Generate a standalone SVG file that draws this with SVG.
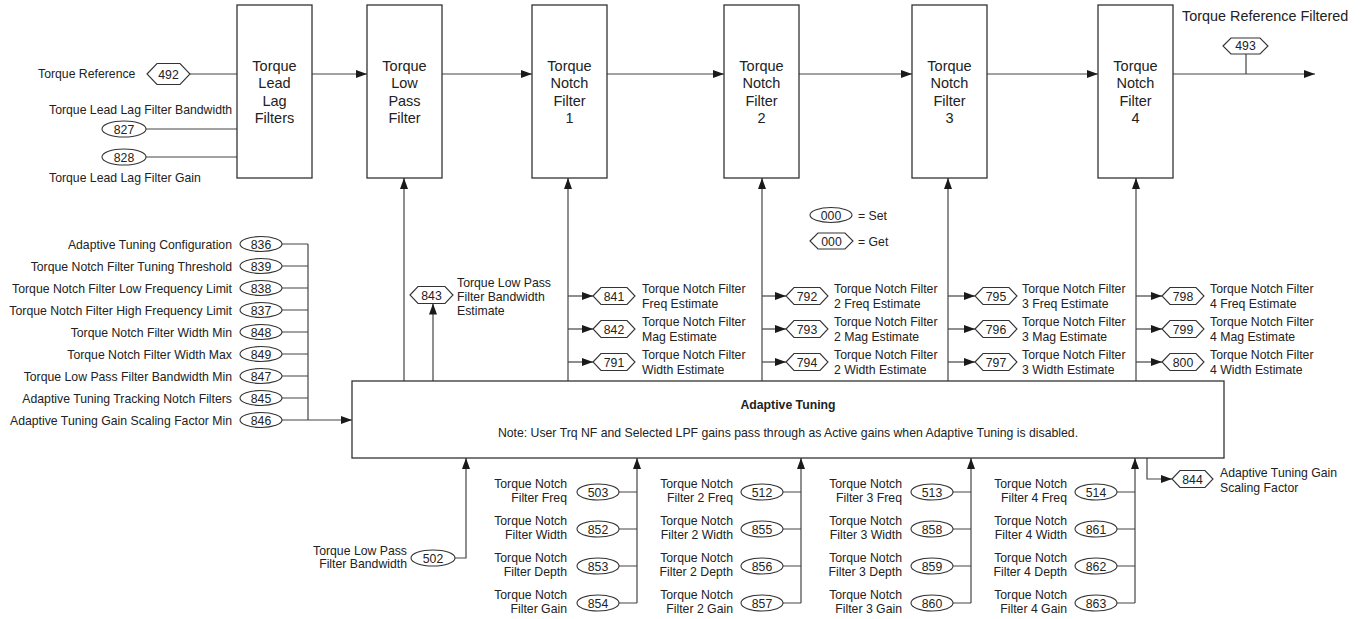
<svg xmlns="http://www.w3.org/2000/svg" width="1364" height="619" viewBox="0 0 1364 619">
<style>
text{font-family:"Liberation Sans",Arial,sans-serif;font-size:12.25px;fill:#222}
.bt{font-size:14.5px;text-anchor:middle}
.m{text-anchor:middle}
.r{text-anchor:end}
.b{font-weight:bold}
.box{fill:#fff;stroke:#333;stroke-width:1.3}
.sh{fill:#fff;stroke:#333;stroke-width:1.1}
.c{fill:none;stroke:#444;stroke-width:1.2}
.a{marker-end:url(#ah)}
</style>
<defs>
<marker id="ah" viewBox="0 0 11 8" refX="11" refY="4" markerWidth="11" markerHeight="8" orient="auto" markerUnits="userSpaceOnUse"><path d="M0,0 L11,4 L0,8 z" fill="#1a1a1a"/></marker>
</defs>

<g id="connectors">
<path class="c" d="M190,74H237M146,129H237M146,157H237"/>
<path class="c a" d="M312,74H367"/>
<path class="c a" d="M442,74H532"/>
<path class="c a" d="M607,74H724"/>
<path class="c a" d="M799,74H912"/>
<path class="c a" d="M987,74H1098"/>
<path class="c a" d="M1173,74H1315"/>
<path class="c" d="M1246,54V74"/>
<path class="c a" d="M404,381V178"/>
<path class="c a" d="M568,381V178"/>
<path class="c a" d="M762,381V178"/>
<path class="c a" d="M948,381V178"/>
<path class="c a" d="M1136,381V178"/>
<path class="c a" d="M433,381V303.5"/>
<path class="c a" d="M568,296H593"/><path class="c a" d="M568,329H593"/><path class="c a" d="M568,362H593"/>
<path class="c a" d="M762,296H786"/><path class="c a" d="M762,329H786"/><path class="c a" d="M762,362H786"/>
<path class="c a" d="M948,296H975"/><path class="c a" d="M948,329H975"/><path class="c a" d="M948,362H975"/>
<path class="c a" d="M1136,296H1162"/><path class="c a" d="M1136,329H1162"/><path class="c a" d="M1136,362H1162"/>
<path class="c" d="M282,244H308M282,266H308M282,288H308M282,310H308M282,332H308M282,354H308M282,376H308M282,398H308M308,244V420"/>
<path class="c a" d="M282,420H352"/>
<path class="c a" d="M455,558H466V458"/>
<path class="c" d="M619,492H637M619,529H637M619,566H637M619,603H637"/>
<path class="c a" d="M637,603V458"/>
<path class="c" d="M783,492H801M783,529H801M783,566H801M783,603H801"/>
<path class="c a" d="M801,603V458"/>
<path class="c" d="M953,492H971M953,529H971M953,566H971M953,603H971"/>
<path class="c a" d="M971,603V458"/>
<path class="c" d="M1117,492H1135M1117,529H1135M1117,566H1135M1117,603H1135"/>
<path class="c a" d="M1135,603V458"/>
<path class="c a" d="M1147,458V479H1172"/>
</g>

<g id="lead-lag"><rect class="box" x="237" y="5" width="75" height="173"/>
<text class="bt" x="274.5" y="70.5">Torque</text><text class="bt" x="274.5" y="88">Lead</text><text class="bt" x="274.5" y="105.5">Lag</text><text class="bt" x="274.5" y="123">Filters</text></g>
<g id="low-pass"><rect class="box" x="367" y="5" width="75" height="173"/>
<text class="bt" x="404.5" y="70.5">Torque</text><text class="bt" x="404.5" y="88">Low</text><text class="bt" x="404.5" y="105.5">Pass</text><text class="bt" x="404.5" y="123">Filter</text></g>
<g id="notch1"><rect class="box" x="532" y="5" width="75" height="173"/>
<text class="bt" x="569.5" y="70.5">Torque</text><text class="bt" x="569.5" y="88">Notch</text><text class="bt" x="569.5" y="105.5">Filter</text><text class="bt" x="569.5" y="123">1</text></g>
<g id="notch2"><rect class="box" x="724" y="5" width="75" height="173"/>
<text class="bt" x="761.5" y="70.5">Torque</text><text class="bt" x="761.5" y="88">Notch</text><text class="bt" x="761.5" y="105.5">Filter</text><text class="bt" x="761.5" y="123">2</text></g>
<g id="notch3"><rect class="box" x="912" y="5" width="75" height="173"/>
<text class="bt" x="949.5" y="70.5">Torque</text><text class="bt" x="949.5" y="88">Notch</text><text class="bt" x="949.5" y="105.5">Filter</text><text class="bt" x="949.5" y="123">3</text></g>
<g id="notch4"><rect class="box" x="1098" y="5" width="75" height="173"/>
<text class="bt" x="1135.5" y="70.5">Torque</text><text class="bt" x="1135.5" y="88">Notch</text><text class="bt" x="1135.5" y="105.5">Filter</text><text class="bt" x="1135.5" y="123">4</text></g>

<g id="adaptive-tuning"><rect class="box" x="352" y="381" width="872" height="77"/>
<text class="m b" x="788" y="409">Adaptive Tuning</text>
<text class="m" x="788" y="437">Note: User Trq NF and Selected LPF gains pass through as Active gains when Adaptive Tuning is disabled.</text></g>

<g id="p492"><text x="38" y="78">Torque Reference</text><polygon class="sh" points="147,74 157,63.5 180,63.5 190,74 180,84.5 157,84.5"/><text class="m" x="168.5" y="78.5">492</text></g>
<g id="p827"><text x="49" y="113.5">Torque Lead Lag Filter Bandwidth</text><ellipse class="sh" cx="124" cy="129" rx="22" ry="8"/><text class="m" x="124" y="133.5">827</text></g>
<g id="p828"><ellipse class="sh" cx="124" cy="157" rx="22" ry="8"/><text class="m" x="124" y="161.5">828</text><text x="49" y="181.5">Torque Lead Lag Filter Gain</text></g>
<g id="p493"><text x="1182" y="21" style="font-size:14.4px">Torque Reference Filtered</text><polygon class="sh" points="1223,46 1231,38 1260,38 1268,46 1260,54 1231,54"/><text class="m" x="1245.5" y="50">493</text></g>

<g id="legend"><ellipse class="sh" cx="831" cy="215" rx="21" ry="7.5"/><text class="m" x="831" y="219.5">000</text><text x="858" y="219.5">= Set</text>
<polygon class="sh" points="810,241 818,233 845,233 853,241 845,249 818,249"/><text class="m" x="831.5" y="245.5">000</text><text x="858" y="245.5">= Get</text></g>

<g id="p843"><polygon class="sh" points="410,295 418,286.5 445,286.5 453,295 445,303.5 418,303.5"/><text class="m" x="431.5" y="299.5">843</text>
<text x="457" y="286.5">Torque Low Pass</text><text x="457" y="300.5">Filter Bandwidth</text><text x="457" y="315">Estimate</text></g>

<g id="p841"><polygon class="sh" points="593,296 601,287.5 627,287.5 635,296 627,304.5 601,304.5"/><text class="m" x="614" y="300.5">841</text><text x="642" y="293">Torque Notch Filter</text><text x="642" y="308">Freq Estimate</text></g>
<g id="p842"><polygon class="sh" points="593,329 601,320.5 627,320.5 635,329 627,337.5 601,337.5"/><text class="m" x="614" y="333.5">842</text><text x="642" y="326">Torque Notch Filter</text><text x="642" y="341">Mag Estimate</text></g>
<g id="p791"><polygon class="sh" points="593,362 601,353.5 627,353.5 635,362 627,370.5 601,370.5"/><text class="m" x="614" y="366.5">791</text><text x="642" y="359">Torque Notch Filter</text><text x="642" y="374">Width Estimate</text></g>

<g id="p792"><polygon class="sh" points="786,296 794,287.5 820,287.5 828,296 820,304.5 794,304.5"/><text class="m" x="807" y="300.5">792</text><text x="834" y="293">Torque Notch Filter</text><text x="834" y="308">2 Freq Estimate</text></g>
<g id="p793"><polygon class="sh" points="786,329 794,320.5 820,320.5 828,329 820,337.5 794,337.5"/><text class="m" x="807" y="333.5">793</text><text x="834" y="326">Torque Notch Filter</text><text x="834" y="341">2 Mag Estimate</text></g>
<g id="p794"><polygon class="sh" points="786,362 794,353.5 820,353.5 828,362 820,370.5 794,370.5"/><text class="m" x="807" y="366.5">794</text><text x="834" y="359">Torque Notch Filter</text><text x="834" y="374">2 Width Estimate</text></g>

<g id="p795"><polygon class="sh" points="975,296 983,287.5 1009,287.5 1017,296 1009,304.5 983,304.5"/><text class="m" x="996" y="300.5">795</text><text x="1022" y="293">Torque Notch Filter</text><text x="1022" y="308">3 Freq Estimate</text></g>
<g id="p796"><polygon class="sh" points="975,329 983,320.5 1009,320.5 1017,329 1009,337.5 983,337.5"/><text class="m" x="996" y="333.5">796</text><text x="1022" y="326">Torque Notch Filter</text><text x="1022" y="341">3 Mag Estimate</text></g>
<g id="p797"><polygon class="sh" points="975,362 983,353.5 1009,353.5 1017,362 1009,370.5 983,370.5"/><text class="m" x="996" y="366.5">797</text><text x="1022" y="359">Torque Notch Filter</text><text x="1022" y="374">3 Width Estimate</text></g>

<g id="p798"><polygon class="sh" points="1162,296 1170,287.5 1196,287.5 1204,296 1196,304.5 1170,304.5"/><text class="m" x="1183" y="300.5">798</text><text x="1210" y="293">Torque Notch Filter</text><text x="1210" y="308">4 Freq Estimate</text></g>
<g id="p799"><polygon class="sh" points="1162,329 1170,320.5 1196,320.5 1204,329 1196,337.5 1170,337.5"/><text class="m" x="1183" y="333.5">799</text><text x="1210" y="326">Torque Notch Filter</text><text x="1210" y="341">4 Mag Estimate</text></g>
<g id="p800"><polygon class="sh" points="1162,362 1170,353.5 1196,353.5 1204,362 1196,370.5 1170,370.5"/><text class="m" x="1183" y="366.5">800</text><text x="1210" y="359">Torque Notch Filter</text><text x="1210" y="374">4 Width Estimate</text></g>

<g id="p844"><polygon class="sh" points="1172,479 1180,470.5 1205,470.5 1213,479 1205,487.5 1180,487.5"/><text class="m" x="1192.5" y="483.5">844</text><text x="1220" y="477">Adaptive Tuning Gain</text><text x="1220" y="491.5">Scaling Factor</text></g>

<g id="p836"><text class="r" x="232" y="248.5">Adaptive Tuning Configuration</text><ellipse class="sh" cx="261" cy="244" rx="21" ry="7.5"/><text class="m" x="261" y="248.5">836</text></g>
<g id="p839"><text class="r" x="232" y="270.5">Torque Notch Filter Tuning Threshold</text><ellipse class="sh" cx="261" cy="266" rx="21" ry="7.5"/><text class="m" x="261" y="270.5">839</text></g>
<g id="p838"><text class="r" x="232" y="292.5">Torque Notch Filter Low Frequency Limit</text><ellipse class="sh" cx="261" cy="288" rx="21" ry="7.5"/><text class="m" x="261" y="292.5">838</text></g>
<g id="p837"><text class="r" x="232" y="314.5">Torque Notch Filter High Frequency Limit</text><ellipse class="sh" cx="261" cy="310" rx="21" ry="7.5"/><text class="m" x="261" y="314.5">837</text></g>
<g id="p848"><text class="r" x="232" y="336.5">Torque Notch Filter Width Min</text><ellipse class="sh" cx="261" cy="332" rx="21" ry="7.5"/><text class="m" x="261" y="336.5">848</text></g>
<g id="p849"><text class="r" x="232" y="358.5">Torque Notch Filter Width Max</text><ellipse class="sh" cx="261" cy="354" rx="21" ry="7.5"/><text class="m" x="261" y="358.5">849</text></g>
<g id="p847"><text class="r" x="232" y="380.5">Torque Low Pass Filter Bandwidth Min</text><ellipse class="sh" cx="261" cy="376" rx="21" ry="7.5"/><text class="m" x="261" y="380.5">847</text></g>
<g id="p845"><text class="r" x="232" y="402.5">Adaptive Tuning Tracking Notch Filters</text><ellipse class="sh" cx="261" cy="398" rx="21" ry="7.5"/><text class="m" x="261" y="402.5">845</text></g>
<g id="p846"><text class="r" x="232" y="424.5">Adaptive Tuning Gain Scaling Factor Min</text><ellipse class="sh" cx="261" cy="420" rx="21" ry="7.5"/><text class="m" x="261" y="424.5">846</text></g>

<g id="p502"><text class="r" x="407" y="554.5">Torque Low Pass</text><text class="r" x="407" y="568">Filter Bandwidth</text><ellipse class="sh" cx="433" cy="558" rx="22" ry="8"/><text class="m" x="433" y="562.5">502</text></g>

<g id="p503"><text class="r" x="567" y="488">Torque Notch</text><text class="r" x="567" y="502">Filter Freq</text><ellipse class="sh" cx="598" cy="492" rx="21" ry="8"/><text class="m" x="598" y="496.5">503</text></g>
<g id="p852"><text class="r" x="567" y="525">Torque Notch</text><text class="r" x="567" y="539">Filter Width</text><ellipse class="sh" cx="598" cy="529" rx="21" ry="8"/><text class="m" x="598" y="533.5">852</text></g>
<g id="p853"><text class="r" x="567" y="562">Torque Notch</text><text class="r" x="567" y="576">Filter Depth</text><ellipse class="sh" cx="598" cy="566" rx="21" ry="8"/><text class="m" x="598" y="570.5">853</text></g>
<g id="p854"><text class="r" x="567" y="599">Torque Notch</text><text class="r" x="567" y="613">Filter Gain</text><ellipse class="sh" cx="598" cy="603" rx="21" ry="8"/><text class="m" x="598" y="607.5">854</text></g>

<g id="p512"><text class="r" x="733" y="488">Torque Notch</text><text class="r" x="733" y="502">Filter 2 Freq</text><ellipse class="sh" cx="762" cy="492" rx="21" ry="8"/><text class="m" x="762" y="496.5">512</text></g>
<g id="p855"><text class="r" x="733" y="525">Torque Notch</text><text class="r" x="733" y="539">Filter 2 Width</text><ellipse class="sh" cx="762" cy="529" rx="21" ry="8"/><text class="m" x="762" y="533.5">855</text></g>
<g id="p856"><text class="r" x="733" y="562">Torque Notch</text><text class="r" x="733" y="576">Filter 2 Depth</text><ellipse class="sh" cx="762" cy="566" rx="21" ry="8"/><text class="m" x="762" y="570.5">856</text></g>
<g id="p857"><text class="r" x="733" y="599">Torque Notch</text><text class="r" x="733" y="613">Filter 2 Gain</text><ellipse class="sh" cx="762" cy="603" rx="21" ry="8"/><text class="m" x="762" y="607.5">857</text></g>

<g id="p513"><text class="r" x="902" y="488">Torque Notch</text><text class="r" x="902" y="502">Filter 3 Freq</text><ellipse class="sh" cx="932" cy="492" rx="21" ry="8"/><text class="m" x="932" y="496.5">513</text></g>
<g id="p858"><text class="r" x="902" y="525">Torque Notch</text><text class="r" x="902" y="539">Filter 3 Width</text><ellipse class="sh" cx="932" cy="529" rx="21" ry="8"/><text class="m" x="932" y="533.5">858</text></g>
<g id="p859"><text class="r" x="902" y="562">Torque Notch</text><text class="r" x="902" y="576">Filter 3 Depth</text><ellipse class="sh" cx="932" cy="566" rx="21" ry="8"/><text class="m" x="932" y="570.5">859</text></g>
<g id="p860"><text class="r" x="902" y="599">Torque Notch</text><text class="r" x="902" y="613">Filter 3 Gain</text><ellipse class="sh" cx="932" cy="603" rx="21" ry="8"/><text class="m" x="932" y="607.5">860</text></g>

<g id="p514"><text class="r" x="1067" y="488">Torque Notch</text><text class="r" x="1067" y="502">Filter 4 Freq</text><ellipse class="sh" cx="1096" cy="492" rx="21" ry="8"/><text class="m" x="1096" y="496.5">514</text></g>
<g id="p861"><text class="r" x="1067" y="525">Torque Notch</text><text class="r" x="1067" y="539">Filter 4 Width</text><ellipse class="sh" cx="1096" cy="529" rx="21" ry="8"/><text class="m" x="1096" y="533.5">861</text></g>
<g id="p862"><text class="r" x="1067" y="562">Torque Notch</text><text class="r" x="1067" y="576">Filter 4 Depth</text><ellipse class="sh" cx="1096" cy="566" rx="21" ry="8"/><text class="m" x="1096" y="570.5">862</text></g>
<g id="p863"><text class="r" x="1067" y="599">Torque Notch</text><text class="r" x="1067" y="613">Filter 4 Gain</text><ellipse class="sh" cx="1096" cy="603" rx="21" ry="8"/><text class="m" x="1096" y="607.5">863</text></g>
</svg>
